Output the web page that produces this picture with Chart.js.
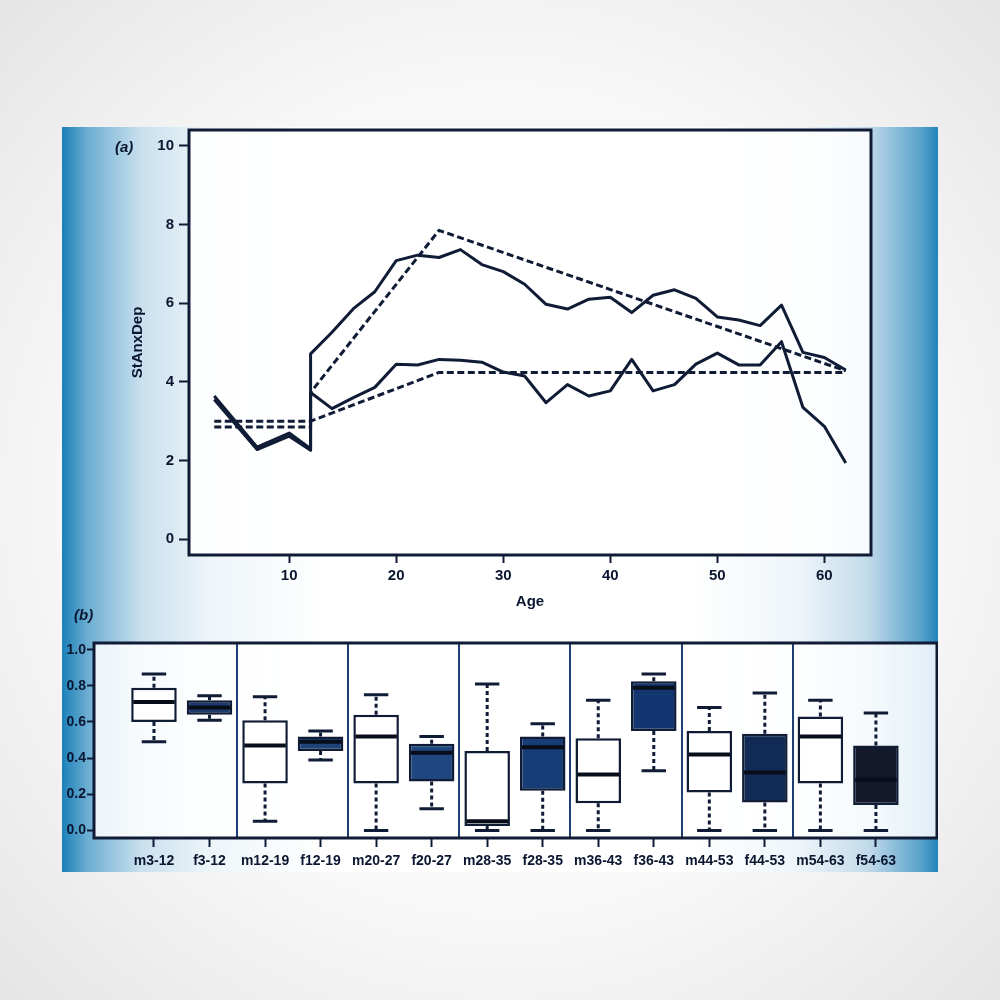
<!DOCTYPE html>
<html><head><meta charset="utf-8">
<script src="https://cdn.jsdelivr.net/npm/chart.js@4.4.1/dist/chart.umd.min.js"></script>
<style>
html,body{margin:0;padding:0;width:1000px;height:1000px;overflow:hidden;}
body{background:radial-gradient(ellipse 75% 75% at 50% 50%,#ffffff 0%,#f8f8f8 55%,#e2e2e2 100%);font-family:"Liberation Sans",Arial,sans-serif;}
#panel{position:absolute;left:62px;top:127px;width:876px;height:745px;
background:linear-gradient(to right,#1b80b7 0%,#6eaed3 3%,#c9e0ee 9%,#eef5f9 17%,#ffffff 30%,#ffffff 72%,#eef5f9 84%,#c2dbea 92%,#5aa2cb 98%,#1f85b8 100%);}
#wa{position:absolute;left:62px;top:127px;width:876px;height:493px;}
#wb{position:absolute;left:62px;top:630px;width:876px;height:242px;}
.lab{position:absolute;font:italic bold 15px "Liberation Sans",Arial,sans-serif;color:#0b1630;}
</style></head>
<body>
<div id="panel"></div>
<div id="wa"><canvas id="ca" width="876" height="493"></canvas></div>
<div id="wb"><canvas id="cb" width="876" height="242"></canvas></div>
<div class="lab" style="left:115px;top:138px;">(a)</div>
<div class="lab" style="left:74px;top:606px;">(b)</div>
<script>
// ---------- Panel (a) data ----------
const ages   = [3,7,10,12,12,14,16,18,20,22,24,26,28,30,32,34,36,38,40,42,44,46,48,50,52,54,56,58,60,62];
const lineA  = [3.64,2.34,2.70,2.30,4.71,5.26,5.86,6.29,7.08,7.22,7.16,7.36,6.98,6.80,6.48,5.97,5.85,6.10,6.15,5.76,6.20,6.34,6.12,5.65,5.57,5.43,5.95,4.75,4.62,4.30];
const lineB  = [3.55,2.28,2.62,2.26,3.73,3.32,3.60,3.86,4.45,4.43,4.57,4.55,4.50,4.25,4.15,3.47,3.93,3.64,3.77,4.57,3.77,3.93,4.45,4.73,4.43,4.43,5.02,3.35,2.87,1.94];
const fitAges1 = [3,12,12,24,62];
const fit1     = [2.85,2.85,3.73,7.85,4.28];
const fitAges2 = [3,12,24,62];
const fit2     = [3.0,3.0,4.24,4.24];
const xTicksA = [10,20,30,40,50,60];
const yTicksA = [0,2,4,6,8,10];

// ---------- Panel (b) data ----------
const boxCats = ['m3-12','f3-12','m12-19','f12-19','m20-27','f20-27','m28-35','f28-35','m36-43','f36-43','m44-53','f44-53','m54-63','f54-63'];
const boxMin  = [0.49,0.61,0.05,0.39,0.00,0.12,0.00,0.00,0.00,0.33,0.00,0.00,0.00,0.00];
const boxQ1   = [0.60,0.64,0.26,0.44,0.26,0.27,0.025,0.22,0.15,0.55,0.21,0.155,0.26,0.14];
const boxMed  = [0.71,0.68,0.47,0.49,0.52,0.43,0.05,0.46,0.31,0.79,0.42,0.32,0.52,0.28];
const boxQ3   = [0.79,0.72,0.61,0.52,0.64,0.48,0.44,0.52,0.51,0.825,0.55,0.535,0.63,0.47];
const boxMax  = [0.865,0.745,0.74,0.55,0.75,0.52,0.81,0.59,0.72,0.865,0.68,0.76,0.72,0.65];
const groupSeps = [1.5,3.5,5.5,7.5,9.5,11.5];
const yTicksB = [0,0.2,0.4,0.6,0.8,1.0];

// ---------- styles ----------
const NAVY = '#101b36';
const TXT = '#0b1630';
const FONT = '"Liberation Sans", Arial, sans-serif';
const boxFill = ['#ffffff','#1b3b6e','#ffffff','#1d4379','#ffffff','#1f467f','#ffffff','#173d77','#ffffff','#133671','#ffffff','#122b56','#ffffff','#13192a'];

const zip = (xs, ys) => xs.map((x, i) => ({x: x, y: ys[i]}));
const zeroPad = s => { s.paddingTop = 0; s.paddingBottom = 0; s.paddingLeft = 0; s.paddingRight = 0; };

const framePlugin = {
  id: 'frame',
  beforeDatasetsDraw(chart, args, opts) {
    const a = chart.chartArea, c = chart.ctx;
    c.save();
    c.fillStyle = opts.fill || 'rgba(255,255,255,0.9)';
    c.fillRect(a.left, a.top, a.right - a.left, a.bottom - a.top);
    c.restore();
  },
  afterDraw(chart, args, opts) {
    const a = chart.chartArea, c = chart.ctx;
    c.save();
    c.strokeStyle = NAVY;
    c.lineWidth = opts.width || 3;
    c.strokeRect(a.left, a.top, a.right - a.left, a.bottom - a.top);
    c.restore();
  }
};

const lineDs = (xs, ys, dashed) => ({
  data: zip(xs, ys), borderColor: NAVY, borderWidth: 3, pointRadius: 0,
  tension: 0, fill: false, borderDash: dashed ? [7, 3.5] : [], borderJoinStyle: 'round', borderCapStyle: 'butt'
});

new Chart(document.getElementById('ca'), {
  type: 'line',
  data: { datasets: [
    lineDs(ages, lineA, false),
    lineDs(ages, lineB, false),
    lineDs(fitAges1, fit1, true),
    lineDs(fitAges2, fit2, true)
  ]},
  options: {
    responsive: false, animation: false, events: [],
    layout: { padding: { left: 0, right: 67, top: 3, bottom: 0 } },
    plugins: { legend: { display: false }, tooltip: { enabled: false }, frame: { width: 3, fill: 'rgba(255,255,255,0.88)' } },
    scales: {
      x: {
        type: 'linear', min: 0.64, max: 64.36, offset: false,
        afterBuildTicks: s => { s.ticks = xTicksA.map(v => ({ value: v })); },
        afterFit: s => { s.height = 65; zeroPad(s); },
        grid: { display: true, drawOnChartArea: false, drawTicks: true, tickLength: 8, tickWidth: 2, tickColor: NAVY, offset: false },
        border: { display: false },
        ticks: { color: TXT, font: { size: 15, weight: 'bold', family: FONT }, padding: 4, maxRotation: 0, autoSkip: false },
        title: { display: true, text: 'Age', color: TXT, font: { size: 15, weight: 'bold', family: FONT }, padding: { top: 0, bottom: 9 } }
      },
      y: {
        type: 'linear', min: -0.4, max: 10.4,
        afterBuildTicks: s => { s.ticks = yTicksA.map(v => ({ value: v })); },
        afterFit: s => { s.width = 127; zeroPad(s); },
        grid: { display: true, drawOnChartArea: false, drawTicks: true, tickLength: 10, tickWidth: 2, tickColor: NAVY },
        border: { display: false },
        ticks: { color: TXT, font: { size: 15, weight: 'bold', family: FONT }, padding: 5 },
        title: { display: true, text: 'StAnxDep', color: TXT, font: { size: 15, weight: 'bold', family: FONT }, padding: { top: 67, bottom: 0 } }
      }
    }
  },
  plugins: [framePlugin]
});

const boxPlugin = {
  id: 'boxparts',
  beforeDatasetsDraw(chart) {
    const c = chart.ctx, a = chart.chartArea, xs = chart.scales.x;
    c.save();
    c.strokeStyle = '#1d3f73';
    c.lineWidth = 2;
    groupSeps.forEach(v => {
      const px = Math.round(xs.getPixelForValue(v));
      c.beginPath(); c.moveTo(px, a.top); c.lineTo(px, a.bottom); c.stroke();
    });
    c.restore();
  },
  afterDatasetsDraw(chart) {
    const c = chart.ctx, xs = chart.scales.x, ys = chart.scales.y;
    c.save();
    boxCats.forEach((cat, i) => {
      const cx = xs.getPixelForValue(i);
      const capL = xs.getPixelForValue(i - 0.22), capR = xs.getPixelForValue(i + 0.22);
      const bL = xs.getPixelForValue(i - 0.41), bR = xs.getPixelForValue(i + 0.41);
      // whiskers (dashed)
      c.strokeStyle = NAVY; c.lineWidth = 3; c.setLineDash([4, 3]);
      c.beginPath();
      c.moveTo(cx, ys.getPixelForValue(boxQ3[i])); c.lineTo(cx, ys.getPixelForValue(boxMax[i]));
      c.moveTo(cx, ys.getPixelForValue(boxQ1[i])); c.lineTo(cx, ys.getPixelForValue(boxMin[i]));
      c.stroke();
      // caps
      c.setLineDash([]); c.lineWidth = 3;
      c.beginPath();
      const yMax = ys.getPixelForValue(boxMax[i]), yMin = ys.getPixelForValue(boxMin[i]);
      c.moveTo(capL, yMax); c.lineTo(capR, yMax);
      c.moveTo(capL, yMin); c.lineTo(capR, yMin);
      c.stroke();
      // median
      c.strokeStyle = '#080d1a'; c.lineWidth = 4;
      const yMed = ys.getPixelForValue(boxMed[i]);
      c.beginPath(); c.moveTo(bL + 2, yMed); c.lineTo(bR - 2, yMed); c.stroke();
    });
    c.restore();
  }
};

new Chart(document.getElementById('cb'), {
  type: 'bar',
  data: { datasets: [{
    data: boxCats.map((cat, i) => ({ x: i, y: [boxQ1[i], boxQ3[i]] })),
    backgroundColor: boxFill, borderColor: NAVY, borderWidth: 2.5, borderSkipped: false,
    barPercentage: 0.82, categoryPercentage: 1.0
  }]},
  options: {
    responsive: false, animation: false, events: [],
    layout: { padding: { left: 0, right: 1, top: 13, bottom: 0 } },
    plugins: { legend: { display: false }, tooltip: { enabled: false }, frame: { width: 3, fill: 'rgba(255,255,255,0.85)' } },
    scales: {
      x: {
        type: 'linear', min: -1.08, max: 14.1, offset: false,
        afterBuildTicks: s => { s.ticks = boxCats.map((c, i) => ({ value: i })); },
        afterFit: s => { s.height = 34; zeroPad(s); },
        grid: { display: true, drawOnChartArea: false, drawTicks: true, tickLength: 9, tickWidth: 2, tickColor: NAVY, offset: false },
        border: { display: false },
        ticks: { color: TXT, font: { size: 14, weight: 'bold', family: FONT }, padding: 6, maxRotation: 0, autoSkip: false,
                 callback: v => boxCats[v] }
      },
      y: {
        type: 'linear', min: -0.042, max: 1.037,
        afterBuildTicks: s => { s.ticks = yTicksB.map(v => ({ value: v })); },
        afterFit: s => { s.width = 32; zeroPad(s); },
        grid: { display: true, drawOnChartArea: false, drawTicks: true, tickLength: 7, tickWidth: 2, tickColor: NAVY },
        border: { display: false },
        ticks: { color: TXT, font: { size: 14, weight: 'bold', family: FONT }, padding: 1, callback: v => v.toFixed(1) }
      }
    }
  },
  plugins: [framePlugin, boxPlugin]
});
</script>
</body></html>
